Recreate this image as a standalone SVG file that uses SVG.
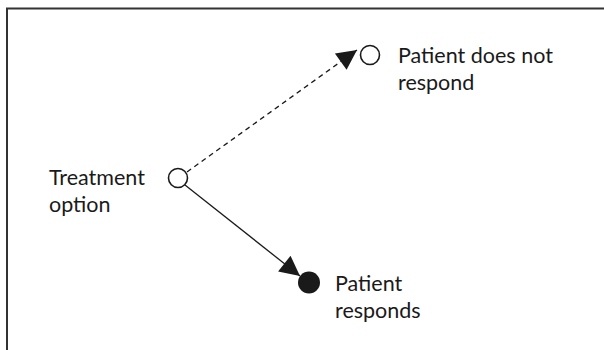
<svg xmlns="http://www.w3.org/2000/svg" width="604" height="350" viewBox="0 0 604 350">
  <style>
    .label { font-family: Lato, "Liberation Sans", sans-serif; font-size: 21.5px; fill: #1a1a1a; }
    .ring { fill: #ffffff; stroke: #1a1a1a; stroke-width: 1.6; }
    .dot { fill: #1a1a1a; }
    .edge { stroke: #1a1a1a; stroke-width: 1.3; fill: none; }
    .dashed { stroke-dasharray: 5 4; }
  </style>
  <defs>
    <marker id="arrow" viewBox="0 0 10 10" refX="10" refY="5" markerWidth="24" markerHeight="20" markerUnits="userSpaceOnUse" orient="auto">
      <path d="M0,0 L10,5 L0,10 Z" fill="#1a1a1a"/>
    </marker>
  </defs>

  <!-- frame -->
  <path d="M7,350 V8.5 H604" fill="none" stroke="#333333" stroke-width="2"/>

  <!-- connectors -->
  <g id="connectors">
    <line class="edge dashed" x1="187" y1="172" x2="357" y2="50" marker-end="url(#arrow)"/>
    <line class="edge" x1="185" y1="185" x2="300" y2="276" marker-end="url(#arrow)"/>
  </g>

  <g id="treatment">
    <circle class="ring" cx="178" cy="178" r="9.5"/>
    <text class="label" x="49" y="185">Treatment</text>
    <text class="label" x="49" y="212">option</text>
  </g>

  <g id="no-response">
    <circle class="ring" cx="370" cy="55" r="9.5"/>
    <text class="label" x="398" y="63">Patient does not</text>
    <text class="label" x="398" y="90">respond</text>
  </g>

  <g id="response">
    <circle class="dot" cx="309" cy="282.5" r="11"/>
    <text class="label" x="335" y="291">Patient</text>
    <text class="label" x="335" y="318">responds</text>
  </g>
</svg>
